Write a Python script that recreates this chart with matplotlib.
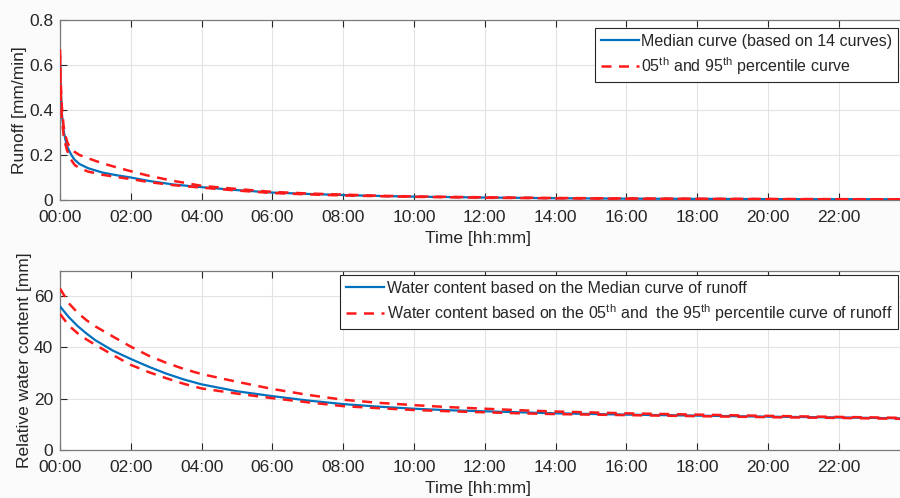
import matplotlib
matplotlib.use("Agg")
import matplotlib.pyplot as plt

plt.rcParams['font.family'] = ['Liberation Sans', 'DejaVu Sans']
plt.rcParams['mathtext.fontset'] = 'custom'
plt.rcParams['mathtext.rm'] = 'Liberation Sans'
plt.rcParams['mathtext.it'] = 'Liberation Sans:italic'

# ---- data (time in hours) ----
t_runoff = [0, 0.02, 0.05, 0.1, 0.15, 0.2, 0.28, 0.35, 0.42, 0.55, 0.8, 1.2, 1.6, 2, 2.5, 3.2, 4, 5, 6, 7, 8, 9, 10, 12, 14, 16, 18, 20, 22, 24]
runoff_median = [0.65, 0.50, 0.39, 0.31, 0.27, 0.24, 0.212, 0.193, 0.178, 0.16, 0.141, 0.122, 0.11, 0.10, 0.085, 0.069, 0.057, 0.044, 0.033, 0.027, 0.022, 0.018, 0.015, 0.011, 0.008, 0.006, 0.005, 0.004, 0.0035, 0.003]
runoff_p95 = [0.67, 0.53, 0.42, 0.33, 0.29, 0.26, 0.232, 0.222, 0.213, 0.20, 0.185, 0.163, 0.145, 0.128, 0.108, 0.085, 0.063, 0.049, 0.036, 0.029, 0.024, 0.019, 0.016, 0.012, 0.009, 0.007, 0.0055, 0.0045, 0.0038, 0.0032]
runoff_p05 = [0.64, 0.48, 0.37, 0.29, 0.25, 0.22, 0.19, 0.17, 0.155, 0.142, 0.126, 0.112, 0.102, 0.093, 0.080, 0.066, 0.055, 0.042, 0.031, 0.025, 0.020, 0.017, 0.014, 0.010, 0.0075, 0.0055, 0.0045, 0.0038, 0.0032, 0.0028]

t_water = [0, 0.25, 0.5, 0.75, 1, 1.5, 2, 2.5, 3, 3.5, 4, 5, 6, 7, 8, 9, 10, 11, 12, 13, 14, 16, 18, 20, 22, 24]
water_median = [56.0, 51.8, 48.3, 45.4, 42.8, 38.7, 35.5, 32.5, 29.8, 27.5, 25.6, 22.9, 21.0, 19.3, 17.9, 16.9, 16.1, 15.5, 15.1, 14.7, 14.3, 13.8, 13.4, 13.0, 12.7, 12.3]
water_p95 = [63.0, 57.2, 53.5, 50.6, 48.2, 44.2, 40.3, 36.8, 34.0, 31.6, 29.6, 26.6, 23.8, 21.5, 19.6, 18.4, 17.5, 16.7, 16.1, 15.5, 15.0, 14.3, 13.8, 13.3, 12.9, 12.5]
water_p05 = [53.1, 48.5, 45.5, 43.1, 41.0, 37.0, 33.2, 30.4, 28.0, 25.8, 24.0, 22.0, 20.2, 18.6, 17.1, 16.3, 15.6, 15.1, 14.7, 14.3, 14.0, 13.6, 13.2, 12.8, 12.5, 12.1]

xticks = [0, 2, 4, 6, 8, 10, 12, 14, 16, 18, 20, 22]
xticklabels = ["%02d:00" % h for h in xticks]

legend1 = ["Median curve (based on 14 curves)", r"05$^{\mathrm{th}}$ and 95$^{\mathrm{th}}$ percentile curve"]
legend2 = ["Water content based on the Median curve of runoff",
           r"Water content based on the 05$^{\mathrm{th}}$ and  the 95$^{\mathrm{th}}$ percentile curve of runoff"]

BLUE = '#0072BD'
RED = '#FF1A1A'
AX = '#262626'
W, H = 900, 498
AXW = 909.6 - 60

fig = plt.figure(figsize=(9, 4.98), dpi=100, facecolor='#fbfbfb')
left = 60 / W
width = AXW / W
ax1 = fig.add_axes([left, 1 - 200 / H, width, 180 / H])
ax2 = fig.add_axes([left, 1 - 450 / H, width, 179.5 / H])

def style(ax):
    ax.set_xlim(0, 24)
    ax.set_xticks(xticks)
    ax.set_xticklabels(xticklabels)
    ax.grid(True, color='#e3e3e3', linewidth=0.8)
    ax.set_axisbelow(True)
    ax.tick_params(direction='in', top=True, right=True, labelsize=12.5,
                   colors=AX, length=5, width=0.8)
    ax.tick_params(axis='x', pad=7)
    ax.tick_params(axis='y', pad=5)
    for s in ax.spines.values():
        s.set_color('#7a7a7a')
        s.set_linewidth(0.9)

ax1.plot(t_runoff, runoff_median, color=BLUE, lw=1.6, label=legend1[0], zorder=3)
ax1.plot(t_runoff, runoff_p95, color=RED, lw=1.8, ls=(0, (4, 3)), label=legend1[1], zorder=4)
ax1.plot(t_runoff, runoff_p05, color=RED, lw=1.8, ls=(0, (4, 3)), zorder=4)
style(ax1)
ax1.set_ylim(0, 0.8)
ax1.set_yticks([0, 0.2, 0.4, 0.6, 0.8])
ax1.set_yticklabels(["0", "0.2", "0.4", "0.6", "0.8"])
ax1.set_ylabel("Runoff [mm/min]", fontsize=12.5, color=AX)
ax1.yaxis.set_label_coords((27 - 60) / AXW, 0.5)
ax1.set_xlabel("Time [hh:mm]", fontsize=12.5, color=AX)
ax1.xaxis.set_label_coords((478 - 60) / AXW, -0.17)

ax2.plot(t_water, water_median, color=BLUE, lw=1.6, label=legend2[0], zorder=3)
ax2.plot(t_water, water_p95, color=RED, lw=1.8, ls=(0, (4, 3)), label=legend2[1], zorder=4)
ax2.plot(t_water, water_p05, color=RED, lw=1.8, ls=(0, (4, 3)), zorder=4)
style(ax2)
ax2.set_ylim(0, 70)
ax2.set_yticks([0, 20, 40, 60])
ax2.set_ylabel("Relative water content [mm]", fontsize=12.5, color=AX)
ax2.yaxis.set_label_coords((32 - 60) / AXW, 0.5)
ax2.set_xlabel("Time [hh:mm]", fontsize=12.5, color=AX)
ax2.xaxis.set_label_coords((478 - 60) / AXW, -0.17)

for ax, anchor in ((ax1, (898 / W, 1 - 28 / H)), (ax2, (898 / W, 1 - 275 / H))):
    leg = ax.legend(loc='upper right', bbox_to_anchor=anchor, bbox_transform=fig.transFigure,
                    borderaxespad=0, fancybox=False, framealpha=1, edgecolor=AX,
                    fontsize=11.5, handlelength=2.4, handletextpad=0.15, borderpad=0.35,
                    labelspacing=0.4)
    leg.get_frame().set_linewidth(0.8)
    for txt in leg.get_texts():
        txt.set_color(AX)

fig.savefig("out.png", dpi=100, facecolor=fig.get_facecolor())
